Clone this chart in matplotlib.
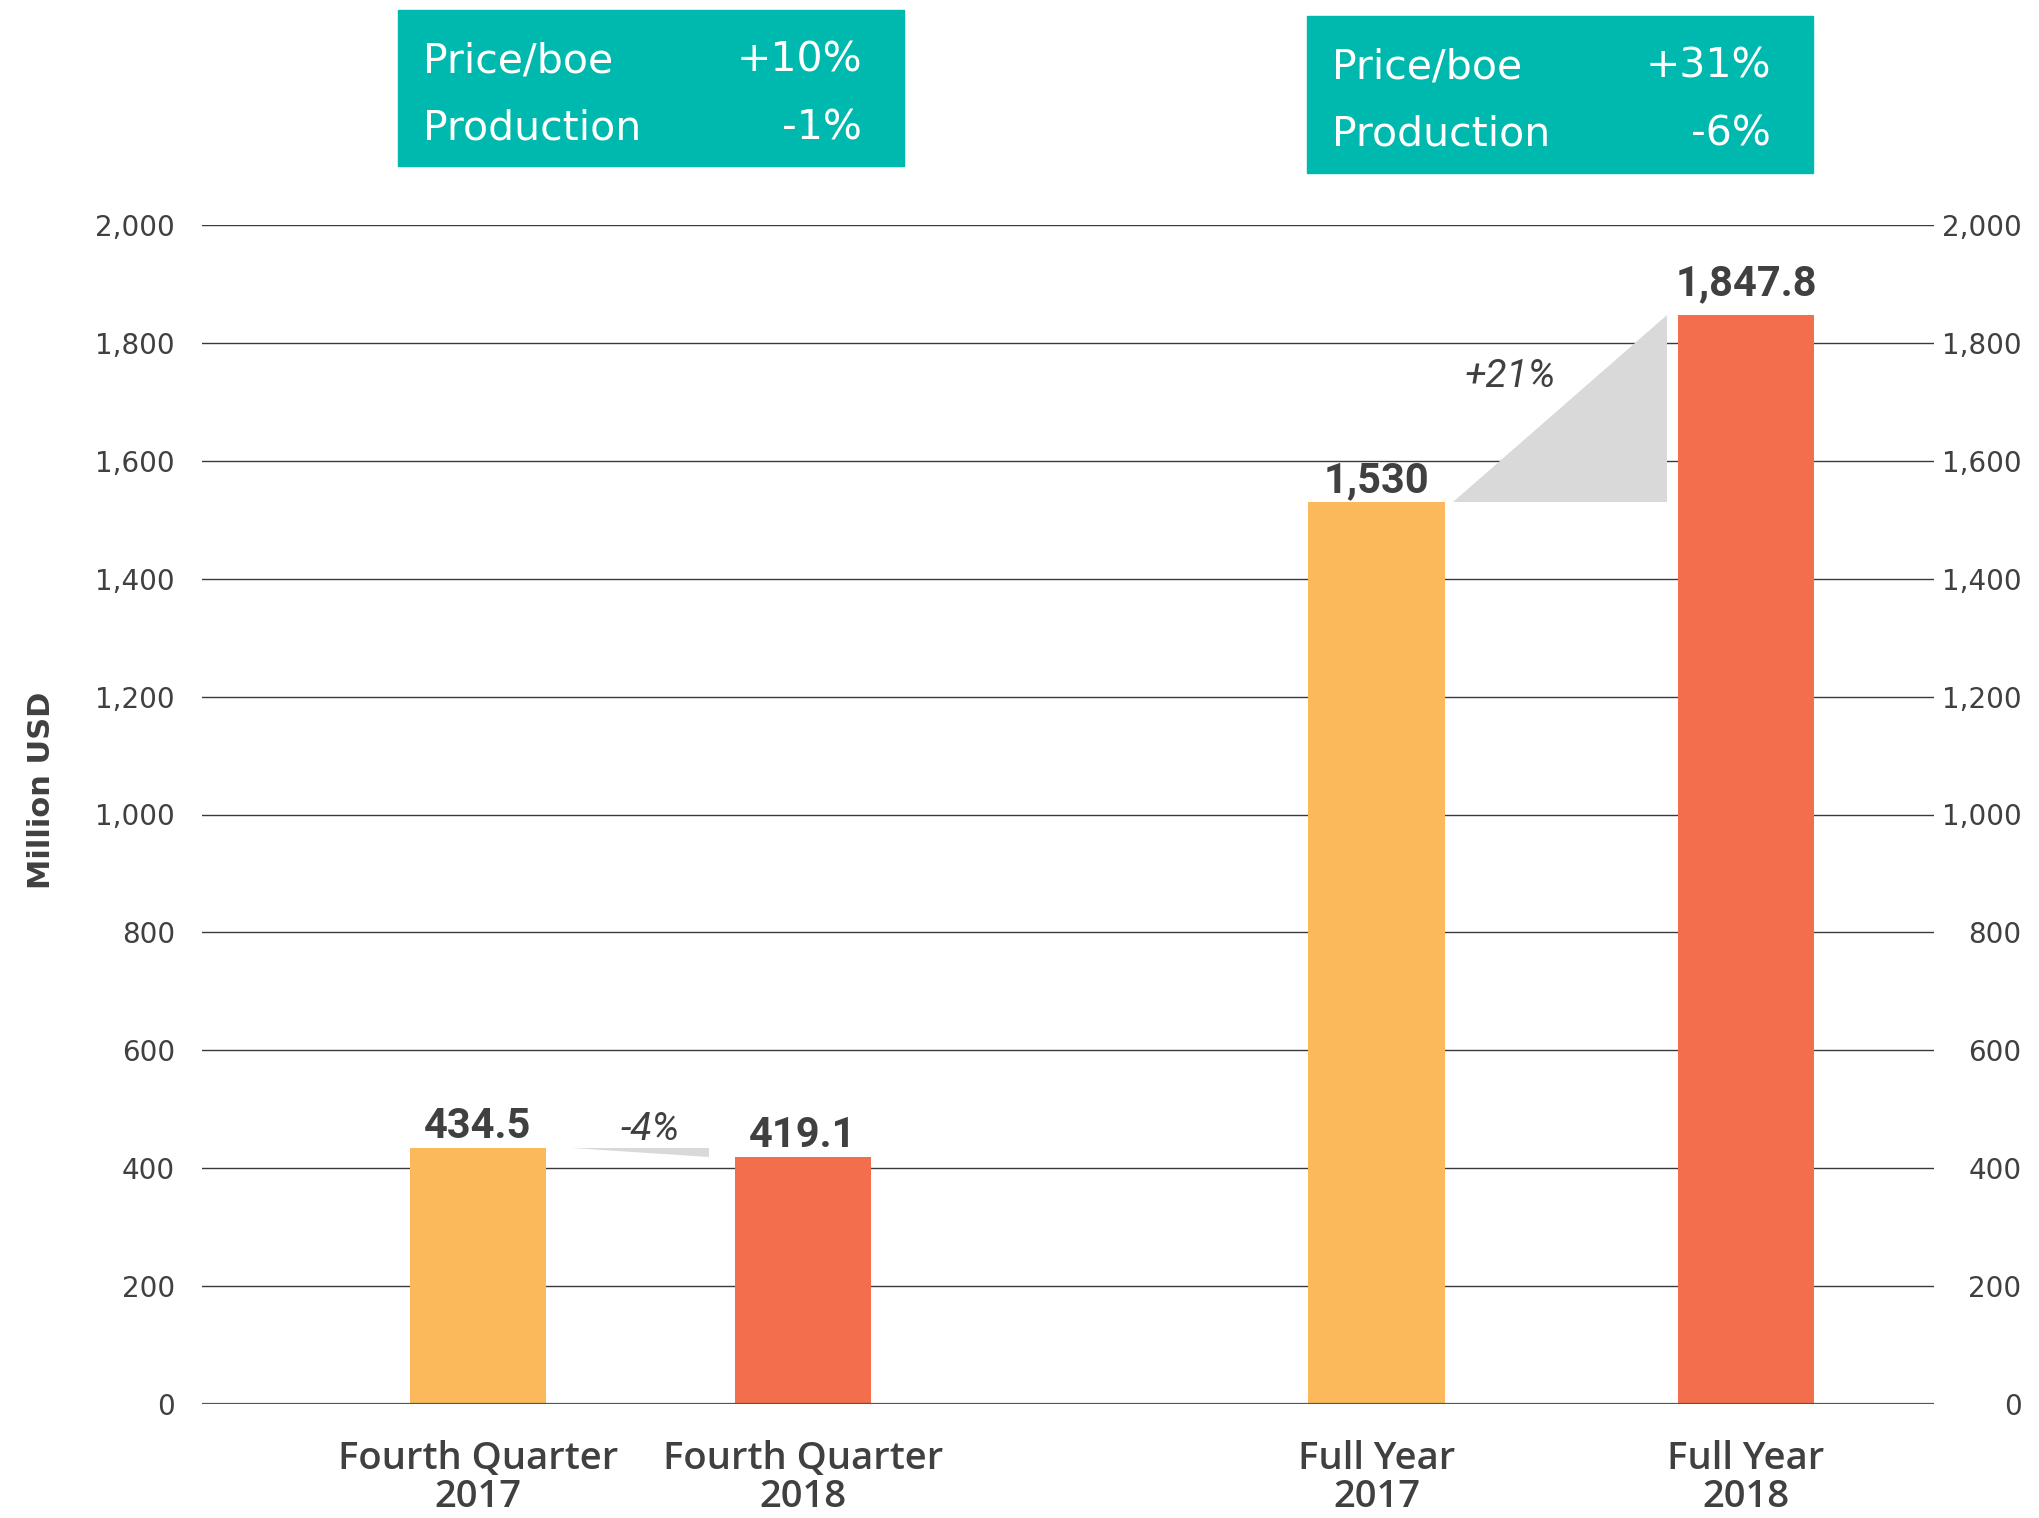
import matplotlib.pyplot as plt
from matplotlib.patches import Rectangle

# dados
categorias = ["Fourth Quarter\n2017", "Fourth Quarter\n2018", "Full Year\n2017", "Full Year\n2018"]
valores = [434.5, 419.1, 1530.0, 1847.8]
rotulos = ["434.5", "419.1", "1,530", "1,847.8"]
variacoes = ["-4%", "+21%"]
caixa_q4 = [("Price/boe", "+10%"), ("Production", "-1%")]
caixa_ano = [("Price/boe", "+31%"), ("Production", "-6%")]
yticks = [0, 200, 400, 600, 800, 1000, 1200, 1400, 1600, 1800, 2000]

pos = [0, 1, 2.764, 3.9]
cores = ["#fbb95c", "#f26e4c", "#fbb95c", "#f26e4c"]
cinza = "#404040"
verde = "#00b9ae"
W, H = 2039, 1518

fig = plt.figure(figsize=(W / 100, H / 100), dpi=100)
ax = fig.add_axes([201.5 / W, 1 - 1404 / H, (1934 - 201.5) / W, (1404 - 225) / H])

ax.bar(pos, valores, width=0.42, color=cores, zorder=3)
ax.set_xlim(-0.85, 4.478)
ax.set_ylim(0, 2000)
for s in ax.spines.values():
    s.set_visible(False)
for t in yticks[1:]:
    ax.axhline(t, color="#3a3a3a", lw=1.0, zorder=1)
ax.axhline(0, color="#555555", lw=1.6, zorder=4)

ax.set_yticks(yticks)
ax.set_yticklabels([f"{t:,}" for t in yticks], fontsize=20, color=cinza, family="DejaVu Sans")
ax.tick_params(axis="y", length=0, pad=19)
ax2 = ax.twinx()
ax2.set_ylim(ax.get_ylim())
for s in ax2.spines.values():
    s.set_visible(False)
ax2.set_yticks(yticks)
ax2.set_yticklabels([f"{t:,}" for t in yticks], fontsize=20, color=cinza, family="DejaVu Sans", ha="right")
ax2.tick_params(axis="y", length=0, pad=63)

ax.set_xticks(pos)
ax.set_xticklabels(categorias, fontsize=27.5, color=cinza, family="Open Sans", fontweight="semibold",
                   linespacing=1.0)
ax.tick_params(axis="x", length=0, pad=26)

# rótulos dos valores
desloc = [7, 7, 7, 14]
for x, v, r, d in zip(pos, valores, rotulos, desloc):
    ax.annotate(r, (x, v), xytext=(0, d), textcoords="offset points", ha="center", va="baseline",
                fontsize=30, fontweight="bold", color=cinza, family="Roboto", zorder=5)

# cunhas de variação
ax.fill([pos[0] + 0.29, pos[1] - 0.29, pos[1] - 0.29], [valores[0], valores[0], valores[1]],
        color="#d9d9d9", lw=0, zorder=2)
ax.fill([pos[2] + 0.235, pos[3] - 0.242, pos[3] - 0.242], [valores[2], valores[2], valores[3]],
        color="#d9d9d9", lw=0, zorder=2)
ax.text(0.53, 448, variacoes[0], ha="center", va="baseline", fontsize=28, style="italic",
        color=cinza, family="Roboto")
ax.text(3.174, 1725, variacoes[1], ha="center", va="baseline", fontsize=28, style="italic",
        color=cinza, family="Roboto")

fig.text(42 / W, 1 - 790 / H, "Million USD", rotation=90, ha="center", va="center",
         fontsize=22, fontweight="bold", color=cinza, family="DejaVu Sans")

# caixas verdes
def caixa(x0, x1, y0, y1, linhas, xt, xv, bases):
    fig.patches.append(Rectangle((x0 / W, 1 - y1 / H), (x1 - x0) / W, (y1 - y0) / H,
                                 transform=fig.transFigure, color=verde, zorder=0))
    for (nome, val), b in zip(linhas, bases):
        fig.text(xt / W, 1 - b / H, nome, ha="left", va="baseline", fontsize=29.5, color="white",
                 family="DejaVu Sans")
        fig.text(xv / W, 1 - b / H, val, ha="right", va="baseline", fontsize=29.5, color="white",
                 family="DejaVu Sans")

caixa(398, 904, 10, 166, caixa_q4, 423, 862, [72, 139])
caixa(1307, 1813, 16, 173, caixa_ano, 1332, 1771, [78, 146])

fig.savefig("out.png", dpi=100)
